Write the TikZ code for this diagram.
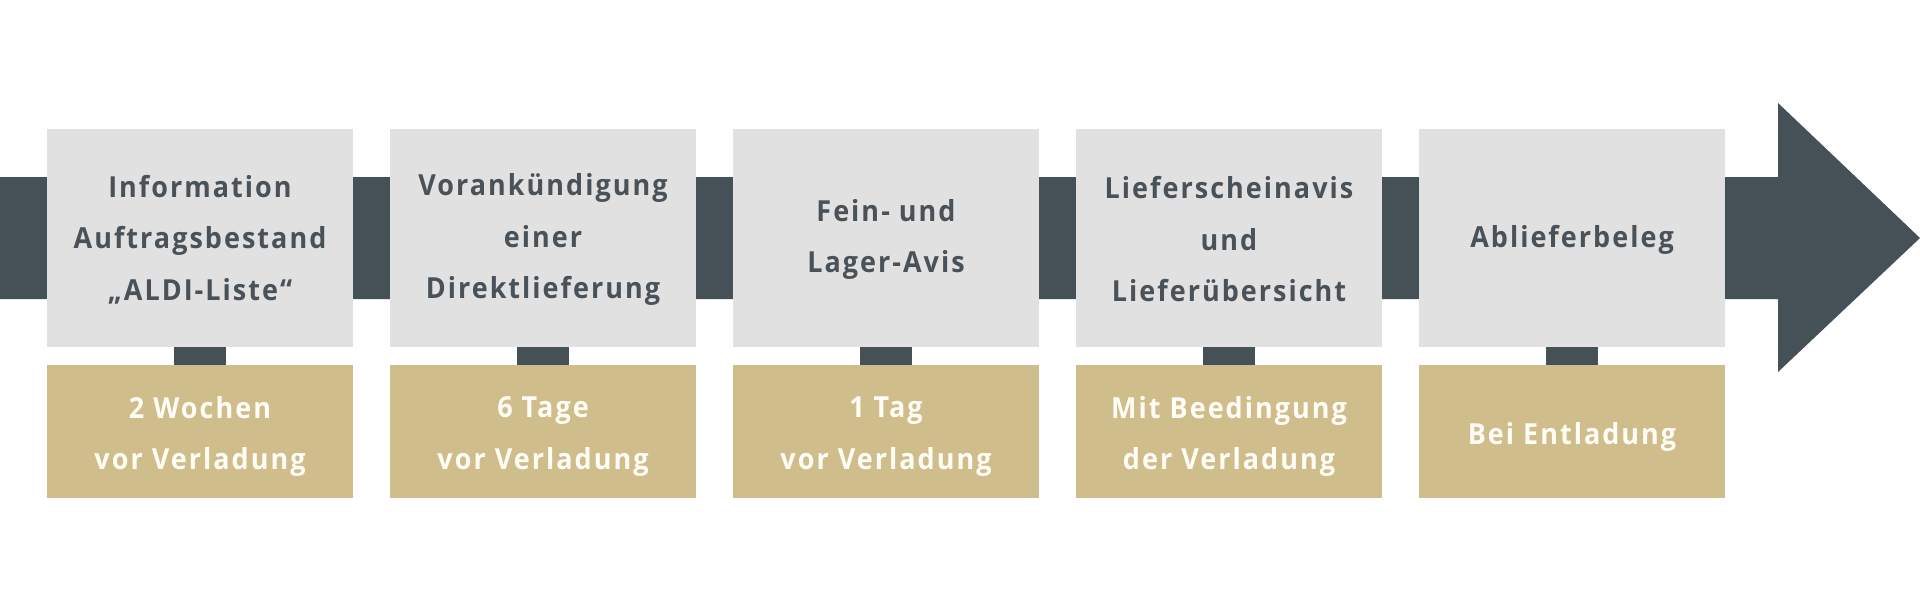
\documentclass[tikz,border=0pt]{standalone}
\usepackage{fontspec}
\setmainfont[LetterSpace=7, FakeStretch=0.93]{Open Sans}
\definecolor{slate}{HTML}{465057}
\definecolor{boxgrey}{HTML}{E1E1E1}
\definecolor{tan}{HTML}{CFBD8C}
\definecolor{txtgrey}{HTML}{4A5259}
\definecolor{txtlight}{HTML}{FFFDF5}
\begin{document}
\begin{tikzpicture}[x=1pt,y=-1pt,
  topbox/.style={fill=boxgrey, draw=none, minimum width=306pt, minimum height=218pt,
    inner sep=0pt},
  timebox/.style={fill=tan, draw=none, minimum width=306pt, minimum height=133pt,
    inner sep=0pt},
  toptext/.style={align=center, text=txtgrey, inner sep=0pt, yshift=-1.5pt,
    font=\fontsize{29}{51.5}\selectfont\bfseries},
  timetext/.style={align=center, text=txtlight, inner sep=0pt, yshift=-5pt,
    font=\fontsize{29}{51.5}\selectfont\bfseries},
  link/.style={draw=slate, line width=52pt}]
\useasboundingbox (0,0) rectangle (1920,600);
\fill[white] (0,0) rectangle (1920,600);
% main arrow
\fill[slate] (0,177) -- (1778,177) -- (1778,103) -- (1920,238) -- (1778,372) -- (1778,299) -- (0,299) -- cycle;
% top boxes
\node[topbox, label={[toptext]center:{Information\\Auftragsbestand\\„ALDI-Liste“}}] (g1) at (200,238) {};
\node[topbox, label={[toptext]center:{Vorankündigung\\einer\\Direktlieferung}}] (g2) at (543,238) {};
\node[topbox, label={[toptext]center:{Fein- und\\Lager-Avis}}] (g3) at (886,238) {};
\node[topbox, label={[toptext]center:{Lieferscheinavis\\und\\Lieferübersicht}}] (g4) at (1229,238) {};
\node[topbox, label={[toptext]center:{Ablieferbeleg}}] (g5) at (1572,238) {};
% time boxes
\node[timebox, label={[timetext]center:{2 Wochen\\vor Verladung}}] (t1) at (200,431.5) {};
\node[timebox, label={[timetext]center:{6 Tage\\vor Verladung}}] (t2) at (543,431.5) {};
\node[timebox, label={[timetext]center:{1 Tag\\vor Verladung}}] (t3) at (886,431.5) {};
\node[timebox, label={[timetext]center:{Mit Beedingung\\der Verladung}}] (t4) at (1229,431.5) {};
\node[timebox, label={[timetext]center:{Bei Entladung}}] (t5) at (1572,431.5) {};
% connectors
\foreach \i in {1,...,5} \draw[link] (g\i.south) -- (t\i.north);
\end{tikzpicture}
\end{document}
